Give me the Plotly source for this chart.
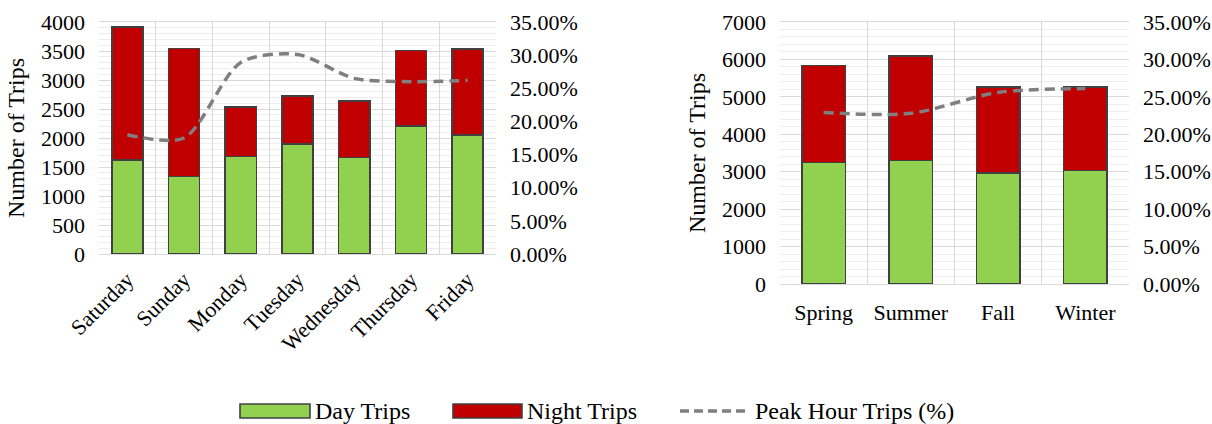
import plotly.graph_objects as go

# ---- data ----
days = ["Saturday", "Sunday", "Monday", "Tuesday", "Wednesday", "Thursday", "Friday"]
day_trips_week = [1620, 1335, 1680, 1895, 1665, 2210, 2050]
night_trips_week = [2290, 2205, 850, 830, 975, 1300, 1480]
peak_week = [0.180, 0.175, 0.289, 0.301, 0.265, 0.260, 0.262]

seasons = ["Spring", "Summer", "Fall", "Winter"]
day_trips_season = [3250, 3300, 2970, 3030]
night_trips_season = [2590, 2790, 2290, 2230]
peak_season = [0.229, 0.228, 0.256, 0.261]

legend_labels = ["Day Trips", "Night Trips", "Peak Hour Trips (%)"]

GREEN = "#92D050"
RED = "#C00000"
EDGE = "#404040"
LINE = "#7F7F7F"
FONT = "Liberation Serif"
GRID = "#D9D9D9"
MINOR = "#EEEEEE"
DASH = "10px,6px"

W, H = 1212, 424

fig = go.Figure()

# left chart
fig.add_trace(go.Bar(x=days, y=day_trips_week, name=legend_labels[0], width=0.55,
                     marker=dict(color=GREEN, line=dict(color=EDGE, width=1.6)),
                     xaxis="x", yaxis="y", showlegend=False))
fig.add_trace(go.Bar(x=days, y=night_trips_week, name=legend_labels[1], width=0.55,
                     marker=dict(color=RED, line=dict(color=EDGE, width=1.6)),
                     xaxis="x", yaxis="y", showlegend=False))
fig.add_trace(go.Scatter(x=days, y=peak_week, name=legend_labels[2], mode="lines",
                         line=dict(color=LINE, width=3.5, dash=DASH, shape="spline", smoothing=0.8),
                         xaxis="x", yaxis="y3", showlegend=False))
# right chart
fig.add_trace(go.Bar(x=seasons, y=day_trips_season, name=legend_labels[0], width=0.5,
                     marker=dict(color=GREEN, line=dict(color=EDGE, width=1.6)),
                     xaxis="x2", yaxis="y2", showlegend=False))
fig.add_trace(go.Bar(x=seasons, y=night_trips_season, name=legend_labels[1], width=0.5,
                     marker=dict(color=RED, line=dict(color=EDGE, width=1.6)),
                     xaxis="x2", yaxis="y2", showlegend=False))
fig.add_trace(go.Scatter(x=seasons, y=peak_season, name=legend_labels[2], mode="lines",
                         line=dict(color=LINE, width=3.5, dash=DASH, shape="spline", smoothing=0.8),
                         xaxis="x2", yaxis="y4", showlegend=False))

tickfont = dict(family=FONT, size=22, color="#000000")
titlefont = dict(family=FONT, size=24, color="#000000")

xcommon = dict(type="category", tickson="boundaries", showgrid=True, gridcolor=GRID, gridwidth=1,
               showline=True, linecolor=GRID, linewidth=1, mirror=True, ticks="",
               tickfont=tickfont, fixedrange=True, automargin=False)
ycommon = dict(showgrid=True, gridcolor=GRID, zeroline=False, ticks="", tickfont=tickfont,
               automargin=False, ticklabelstandoff=13, fixedrange=True)
y2common = dict(range=[0, 0.35], dtick=0.05, tickformat=".2%", showgrid=False, zeroline=False,
                ticks="", tickfont=tickfont, automargin=False, ticklabelstandoff=13, fixedrange=True)

fig.update_layout(
    width=W, height=H,
    margin=dict(l=0, r=0, t=0, b=0, autoexpand=False),
    paper_bgcolor="white", plot_bgcolor="white",
    barmode="stack",
    showlegend=False,
    font=dict(family=FONT, size=22, color="#000000"),
    xaxis=dict(domain=[99/W, 496/W], anchor="y", tickangle=-45, ticklabelstandoff=3, **xcommon),
    yaxis=dict(domain=[1-254/H, 1-22/H], anchor="x", range=[0, 4000], dtick=500,
               minor=dict(dtick=100, showgrid=True, gridcolor=MINOR),
               title=dict(text="Number of Trips", font=titlefont, standoff=9), **ycommon),
    yaxis3=dict(overlaying="y", side="right", anchor="x", **y2common),
    xaxis2=dict(domain=[780/W, 1129/W], anchor="y2", tickangle=0, ticklabelstandoff=9, **xcommon),
    yaxis2=dict(domain=[1-284/H, 1-22/H], anchor="x2", range=[0, 7000], dtick=1000,
                minor=dict(dtick=200, showgrid=True, gridcolor=MINOR),
                title=dict(text="Number of Trips", font=titlefont, standoff=9), **ycommon),
    yaxis4=dict(overlaying="y2", side="right", anchor="x2", **y2common),
)

# ---- custom legend (wide swatches as in the reference) ----
ly = 1 - 411/H
rect_h = 7/H
legend_font = dict(family=FONT, size=24, color="#000000")
fig.add_shape(type="rect", xref="paper", yref="paper", x0=240/W, x1=310/W, y0=ly-rect_h, y1=ly+rect_h,
              fillcolor=GREEN, line=dict(color=EDGE, width=1.6))
fig.add_annotation(xref="paper", yref="paper", x=313/W, y=ly, text=legend_labels[0], showarrow=False,
                   xanchor="left", yanchor="middle", font=legend_font)
fig.add_shape(type="rect", xref="paper", yref="paper", x0=453/W, x1=522/W, y0=ly-rect_h, y1=ly+rect_h,
              fillcolor=RED, line=dict(color=EDGE, width=1.6))
fig.add_annotation(xref="paper", yref="paper", x=525/W, y=ly, text=legend_labels[1], showarrow=False,
                   xanchor="left", yanchor="middle", font=legend_font)
fig.add_shape(type="line", xref="paper", yref="paper", x0=680/W, x1=748/W, y0=ly, y1=ly,
              line=dict(color=LINE, width=3.5, dash="9px,5px"))
fig.add_annotation(xref="paper", yref="paper", x=753/W, y=ly, text=legend_labels[2], showarrow=False,
                   xanchor="left", yanchor="middle", font=legend_font)

fig.write_html("out.html", config={"displayModeBar": False},
               post_script="document.body.style.margin='0';")
